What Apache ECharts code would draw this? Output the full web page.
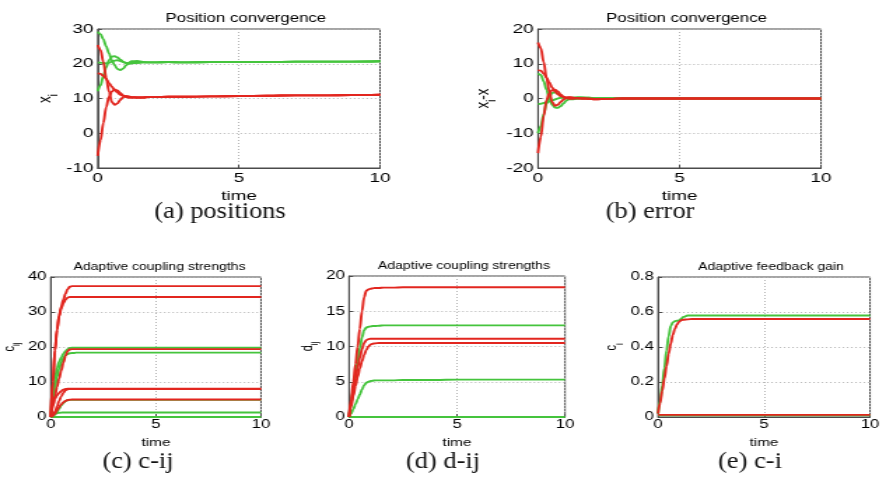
<!DOCTYPE html>
<html>
<head>
<meta charset="utf-8">
<script src="https://cdn.jsdelivr.net/npm/echarts@6/dist/echarts.min.js"></script>
<style>
  html, body { margin: 0; padding: 0; background: #fff; overflow: hidden; }
  /* figures are stretched horizontally, as when placed with a fixed width in the document */
  #fig { width: 633px; height: 479px; transform: scaleX(1.3997); transform-origin: 0 0; }
</style>
</head>
<body>
<div id="fig"></div>
<script>
// Horizontal stretch applied to the figure panels
const SX = 1.3997;

// Shared sample times
const time = [0, 0.1, 0.2, 0.3, 0.4, 0.5, 0.6, 0.7, 0.8, 0.9, 1.0, 1.1, 1.2, 1.4, 1.6, 1.8, 2.0, 2.5, 3, 4, 5, 6, 7, 8, 9, 10];

// (a) positions x_i
const posGreen1 = [29.2, 28.5, 27, 25, 23, 21, 19.5, 18.5, 18.2, 18.6, 19.5, 20.3, 20.7, 20.8, 20.5, 20.4, 20.4, 20.5, 20.4, 20.5, 20.5, 20.5, 20.6, 20.6, 20.6, 20.7];
const posGreen2 = [12.1, 13.8, 16.5, 19, 21, 22, 22.2, 21.8, 21.2, 20.6, 20.2, 20, 20.1, 20.3, 20.4, 20.4, 20.4, 20.5, 20.4, 20.5, 20.5, 20.5, 20.6, 20.6, 20.6, 20.7];
const posGreen3 = [20.4, 20.3, 20.2, 20.1, 20.3, 20.6, 20.9, 21, 20.8, 20.5, 20.2, 20.1, 20.2, 20.3, 20.4, 20.4, 20.4, 20.5, 20.4, 20.5, 20.5, 20.5, 20.6, 20.6, 20.6, 20.7];
const posRed1 = [25.4, 24, 20.5, 16, 12, 9, 8.2, 8.6, 9.6, 10.4, 10.7, 10.6, 10.4, 10.3, 10.3, 10.4, 10.4, 10.5, 10.5, 10.6, 10.7, 10.8, 10.9, 10.9, 11.0, 11.1];
const posRed2 = [17.3, 17.1, 16.5, 15.6, 14.5, 13.4, 12.4, 11.7, 11.1, 10.8, 10.6, 10.5, 10.4, 10.3, 10.3, 10.4, 10.4, 10.5, 10.5, 10.6, 10.7, 10.8, 10.9, 10.9, 11.0, 11.1];
const posRed3 = [-6.5, -2, 3, 7.5, 10.5, 12, 12.6, 12.3, 11.6, 10.9, 10.4, 10.2, 10.2, 10.3, 10.3, 10.4, 10.4, 10.5, 10.5, 10.6, 10.7, 10.8, 10.9, 10.9, 11.0, 11.1];

// (b) error x_i - x
const errGreen1 = [7.25, 6.8, 5, 2.5, 0, -1.8, -2.6, -2.7, -2.2, -1.4, -0.6, -0.1, 0.2, 0.4, 0.3, 0.2, 0.1, 0.1, 0, 0, 0, 0, 0, 0, 0, 0];
const errGreen2 = [-1.6, -1.5, -1.3, -1.1, -0.9, -0.6, -0.3, 0, 0.2, 0.2, 0.1, 0, 0, 0.1, 0.2, 0.2, 0.1, 0.1, 0, 0, 0, 0, 0, 0, 0, 0];
const errGreen3 = [-10, -8, -4.5, -1.5, 0.5, 1.6, 1.8, 1.4, 0.8, 0.3, 0, -0.2, -0.2, -0.1, 0, 0, 0, 0, 0, 0, 0, 0, 0, 0, 0, 0];
const errRed1 = [16.1, 14.5, 10.5, 6, 2, -1, -2.1, -1.8, -1, -0.3, 0.2, 0.4, 0.3, 0.1, 0, -0.1, -0.2, -0.1, 0, 0, 0, 0, 0, 0, 0, 0];
const errRed2 = [8.2, 8, 7.2, 6, 4.6, 3.2, 2, 1.2, 0.7, 0.4, 0.3, 0.3, 0.2, 0.1, 0, -0.1, -0.2, -0.1, 0, 0, 0, 0, 0, 0, 0, 0];
const errRed3 = [-15.7, -11, -5, -0.5, 1.5, 2.4, 2.5, 2, 1.2, 0.5, 0.1, -0.1, -0.1, 0, 0, 0, -0.1, -0.1, 0, 0, 0, 0, 0, 0, 0, 0];

// (c) coupling strengths c_ij
const cGreen1 = [0, 6, 11, 14, 15.8, 17, 18, 18.8, 19.4, 19.7, 19.8, 19.8, 19.8, 19.8, 19.8, 19.8, 19.8, 19.8, 19.8, 19.8, 19.8, 19.8, 19.8, 19.8, 19.8, 19.8];
const cGreen2 = [0, 4, 8.5, 11.5, 13.8, 15.6, 16.8, 17.6, 18, 18.2, 18.3, 18.3, 18.4, 18.4, 18.4, 18.4, 18.4, 18.4, 18.4, 18.4, 18.4, 18.4, 18.4, 18.4, 18.4, 18.4];
const cGreen3 = [0, 0.2, 0.7, 1.5, 2.4, 3.3, 4, 4.5, 4.8, 4.9, 4.9, 4.9, 4.9, 4.9, 4.9, 4.9, 4.9, 4.9, 4.9, 4.9, 4.9, 4.9, 4.9, 4.9, 4.9, 4.9];
const cGreen4 = [0, 0.5, 0.9, 1.1, 1.2, 1.25, 1.3, 1.3, 1.3, 1.3, 1.3, 1.3, 1.3, 1.3, 1.3, 1.3, 1.3, 1.3, 1.3, 1.3, 1.3, 1.3, 1.3, 1.3, 1.3, 1.3];
const cGreen5 = [0, 0, 0, 0, 0, 0, 0, 0, 0, 0, 0, 0, 0, 0, 0, 0, 0, 0, 0, 0, 0, 0, 0, 0, 0, 0];
const cRed1 = [0, 10, 19, 25, 29, 31.5, 33.5, 35.2, 36.5, 37.2, 37.4, 37.4, 37.4, 37.4, 37.4, 37.4, 37.4, 37.4, 37.4, 37.4, 37.4, 37.4, 37.4, 37.4, 37.4, 37.4];
const cRed2 = [0, 10, 19, 25, 28.8, 31, 32.5, 33.5, 34.1, 34.3, 34.3, 34.3, 34.3, 34.3, 34.3, 34.3, 34.3, 34.3, 34.3, 34.3, 34.3, 34.3, 34.3, 34.3, 34.3, 34.3];
const cRed3 = [0, 3, 6, 8.6, 11, 13.3, 15.5, 17.4, 18.8, 19.3, 19.4, 19.4, 19.4, 19.4, 19.4, 19.4, 19.4, 19.4, 19.4, 19.4, 19.4, 19.4, 19.4, 19.4, 19.4, 19.4];
const cRed4 = [0, 3.5, 5.2, 6.2, 6.9, 7.4, 7.8, 8, 8.1, 8.1, 8.1, 8.1, 8.1, 8.1, 8.1, 8.1, 8.1, 8.1, 8.1, 8.1, 8.1, 8.1, 8.1, 8.1, 8.1, 8.1];
const cRed5 = [0, 0.5, 1.5, 3, 4.6, 5.9, 6.9, 7.6, 7.9, 8, 8, 8, 8, 8, 8, 8, 8, 8, 8, 8, 8, 8, 8, 8, 8, 8];
const cRed6 = [0, 0.3, 1, 1.9, 2.8, 3.6, 4.2, 4.6, 4.85, 4.95, 5, 5, 5, 5, 5, 5, 5, 5, 5, 5, 5, 5, 5, 5, 5, 5];

// (d) coupling strengths d_ij
const dGreen1 = [0, 2, 4, 6, 8, 9.8, 11.3, 12.3, 12.7, 12.8, 12.85, 12.9, 12.9, 12.95, 13, 13, 13, 13, 13, 13, 13, 13, 13, 13, 13, 13];
const dGreen2 = [0, 0.5, 1.1, 1.8, 2.5, 3.2, 3.9, 4.5, 4.85, 5, 5.1, 5.15, 5.2, 5.2, 5.2, 5.2, 5.2, 5.25, 5.25, 5.25, 5.3, 5.3, 5.3, 5.3, 5.3, 5.3];
const dGreen3 = [0, 0, 0, 0, 0, 0, 0, 0, 0, 0, 0, 0, 0, 0, 0, 0, 0, 0, 0, 0, 0, 0, 0, 0, 0, 0];
const dRed1 = [0, 2.5, 5, 7.5, 10, 12.5, 15, 17, 17.9, 18.1, 18.2, 18.25, 18.3, 18.3, 18.35, 18.35, 18.35, 18.4, 18.4, 18.4, 18.4, 18.4, 18.4, 18.4, 18.4, 18.4];
const dRed2 = [0, 2, 3.8, 5.5, 7, 8.4, 9.6, 10.5, 10.9, 11.05, 11.1, 11.1, 11.1, 11.1, 11.1, 11.1, 11.1, 11.1, 11.1, 11.1, 11.1, 11.1, 11.1, 11.1, 11.1, 11.1];
const dRed3 = [0, 1.5, 3, 4.4, 5.7, 6.9, 7.9, 8.8, 9.5, 10, 10.3, 10.4, 10.45, 10.5, 10.5, 10.5, 10.5, 10.5, 10.5, 10.5, 10.5, 10.5, 10.5, 10.5, 10.5, 10.5];

// (e) feedback gains c_i
const gGreen1 = [0.02, 0.09, 0.18, 0.28, 0.38, 0.46, 0.52, 0.54, 0.548, 0.55, 0.553, 0.562, 0.572, 0.58, 0.58, 0.58, 0.58, 0.58, 0.58, 0.58, 0.58, 0.58, 0.58, 0.58, 0.58, 0.58];
const gGreen2 = [0.01, 0.01, 0.01, 0.01, 0.01, 0.01, 0.01, 0.01, 0.01, 0.01, 0.01, 0.01, 0.01, 0.01, 0.01, 0.01, 0.01, 0.01, 0.01, 0.01, 0.01, 0.01, 0.01, 0.01, 0.01, 0.01];
const gRed1 = [0.02, 0.08, 0.15, 0.22, 0.29, 0.36, 0.42, 0.47, 0.505, 0.53, 0.545, 0.553, 0.556, 0.558, 0.56, 0.56, 0.56, 0.56, 0.56, 0.56, 0.56, 0.56, 0.56, 0.56, 0.56, 0.56];
const gRed2 = [0.012, 0.012, 0.012, 0.012, 0.012, 0.012, 0.012, 0.012, 0.012, 0.012, 0.012, 0.012, 0.012, 0.012, 0.012, 0.012, 0.012, 0.012, 0.012, 0.012, 0.012, 0.012, 0.012, 0.012, 0.012, 0.012];

// Axis ticks
const timeTicks = { min: 0, max: 10, interval: 5 };
const yTicks = [
  { min: -10, max: 30, interval: 10 },
  { min: -20, max: 20, interval: 10 },
  { min: 0, max: 40, interval: 10 },
  { min: 0, max: 20, interval: 5 },
  { min: 0, max: 0.8, interval: 0.2 }
];

const GREEN = '#45c43d';
const RED = '#e2261f';
const SANS = 'Liberation Sans';
const CAPTION_FONT = 'normal 23px Liberation Serif';

// Panel layout, screen pixels
const panels = [
  { left: 97.7, right: 380, top: 29, bottom: 168, title: 'Position convergence', yName: '{a|x}{b|i}', yGap: 27, caption: '(a) positions', capX: 220, capY: 212, big: true },
  { left: 538, right: 821, top: 29, bottom: 168, title: 'Position convergence', yName: '{a|x}{b|i}{a|-x}', yGap: 28, caption: '(b) error', capX: 650, capY: 212, big: true },
  { left: 44, right: 261, top: 277, bottom: 417, title: 'Adaptive coupling strengths', yName: '{a|c}{b|ij}', yGap: 19, caption: '(c) c-ij', capX: 138, capY: 462, big: false },
  { left: 349, right: 565, top: 276, bottom: 417, title: 'Adaptive coupling strengths', yName: '{a|d}{b|ij}', yGap: 17, caption: '(d) d-ij', capX: 443, capY: 462, big: false },
  { left: 658, right: 870, top: 277, bottom: 417, title: 'Adaptive feedback gain', yName: '{a|c}{b|i}', yGap: 19, caption: '(e) c-i', capX: 750, capY: 462, big: false }
];

const panelSeries = [
  { green: [posGreen1, posGreen2, posGreen3], red: [posRed1, posRed2, posRed3] },
  { green: [errGreen1, errGreen2, errGreen3], red: [errRed1, errRed2, errRed3] },
  { green: [cGreen1, cGreen2, cGreen3, cGreen4, cGreen5], red: [cRed1, cRed2, cRed3, cRed4, cRed5, cRed6] },
  { green: [dGreen1, dGreen2, dGreen3], red: [dRed1, dRed2, dRed3] },
  { green: [gGreen1, gGreen2], red: [gRed1, gRed2] }
];

const grids = [], xAxes = [], yAxes = [], titles = [], series = [], graphics = [];

panels.forEach((p, i) => {
  const tick = p.big ? 13.5 : 12;
  const nameSize = p.big ? 13.5 : 11;
  const titleSize = p.big ? 12 : 10;
  const axisColor = '#4a4a4a';
  grids.push({
    left: p.left / SX, top: p.top,
    width: (p.right - p.left) / SX, height: p.bottom - p.top,
    show: true, borderColor: axisColor, borderWidth: 1, backgroundColor: '#fff', containLabel: false
  });
  const common = {
    gridIndex: i, type: 'value',
    axisLine: { show: true, onZero: false, lineStyle: { color: axisColor, width: 1 } },
    axisTick: { show: true, inside: true, length: 3, lineStyle: { color: axisColor } },
    splitLine: { show: true, lineStyle: { color: '#b4b4b4', type: [1, 2], width: 1 } },
    axisLabel: { color: '#000', fontSize: tick, fontFamily: SANS, margin: 3 }
  };
  xAxes.push(Object.assign({}, common, timeTicks, {
    name: 'time', nameLocation: 'middle', nameGap: p.big ? 21 : 20,
    nameTextStyle: { color: '#000', fontSize: nameSize, fontFamily: SANS },
    axisLabel: Object.assign({}, common.axisLabel, { margin: p.big ? 3 : 2 })
  }));
  yAxes.push(Object.assign({}, common, yTicks[i], {
    name: p.yName, nameLocation: 'middle', nameRotate: 90, nameGap: p.yGap,
    nameTextStyle: {
      color: '#000', fontFamily: SANS,
      rich: {
        a: { fontSize: nameSize, fontFamily: SANS, color: '#000', verticalAlign: 'bottom', padding: [0, 0, 4, 0] },
        b: { fontSize: nameSize * 0.7, fontFamily: SANS, color: '#000', verticalAlign: 'bottom' }
      }
    }
  }));
  titles.push({
    text: p.title,
    left: ((p.left + p.right) / 2) / SX, top: p.top - (p.big ? 21 : 20),
    textAlign: 'center',
    textStyle: { fontSize: titleSize, fontWeight: 'normal', color: '#000', fontFamily: SANS }
  });
  const addLine = (vals, color) => series.push({
    type: 'line', xAxisIndex: i, yAxisIndex: i,
    data: time.map((t, j) => [t, vals[j]]),
    showSymbol: false, smooth: 0.35, smoothMonotone: 'x',
    lineStyle: { color: color, width: 1.9 }, itemStyle: { color: color },
    clip: true, silent: true
  });
  panelSeries[i].green.forEach(v => addLine(v, GREEN));
  panelSeries[i].red.forEach(v => addLine(v, RED));
  // caption below each panel, kept at its natural width inside the stretched figure
  graphics.push({
    type: 'text', x: p.capX / SX, y: p.capY, scaleX: 1.15 / SX, scaleY: 1,
    style: {
      text: p.caption, font: CAPTION_FONT,
      fill: '#111', textAlign: 'center', verticalAlign: 'middle'
    }
  });
});

const chart = echarts.init(document.getElementById('fig'), null, { renderer: 'canvas' });
chart.setOption({
  animation: false,
  backgroundColor: '#fff',
  title: titles,
  grid: grids,
  xAxis: xAxes,
  yAxis: yAxes,
  series: series,
  graphic: graphics
});
</script>
</body>
</html>
